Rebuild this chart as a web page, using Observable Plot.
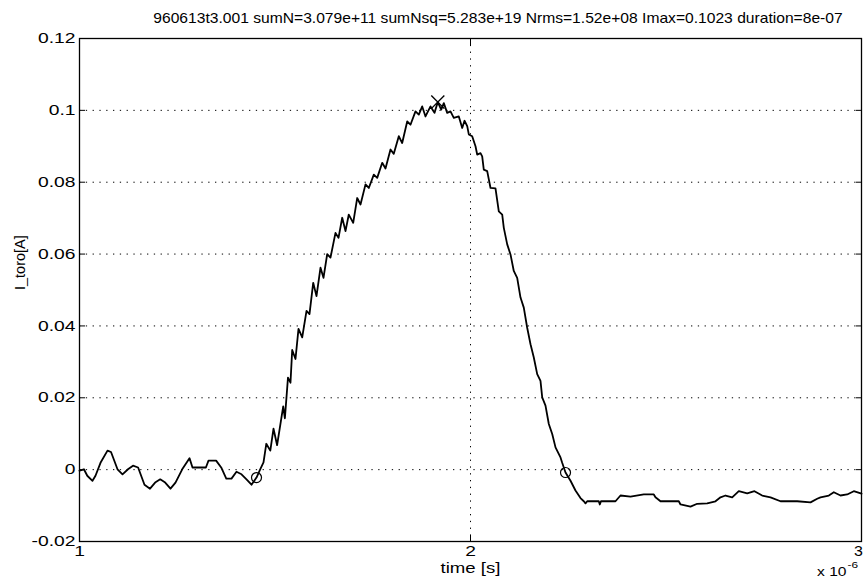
<!DOCTYPE html>
<html><head><meta charset="utf-8">
<script src="https://cdn.jsdelivr.net/npm/d3@7"></script>
<script src="https://cdn.jsdelivr.net/npm/@observablehq/plot@0.6"></script>
<style>body{margin:0;background:#fff}</style>
</head><body><div id="chart"></div>
<script>
const titleText = "960613t3.001 sumN=3.079e+11 sumNsq=5.283e+19 Nrms=1.52e+08 Imax=0.1023 duration=8e-07";
const yLabel = "I_toro[A]";
const xLabel = "time [s]";
const xExponentBase = "x 10";
const xExponent = "-6";

// time in units of 1e-6 s
const timeUs = [
1.0000,1.0113,1.0199,1.0332,1.0409,1.0537,1.0716,1.0806,1.0972,1.1100,
1.1240,1.1368,1.1499,1.1662,1.1803,1.1934,1.2064,1.2192,1.2327,1.2455,
1.2627,1.2813,1.2890,1.3233,1.3299,1.3494,1.3624,1.3754,1.3887,1.4015,
1.4143,1.4271,1.4399,1.4527,1.4621,1.4706,1.4777,1.4880,1.4962,1.5054,
1.5210,1.5253,1.5332,1.5396,1.5440,1.5524,1.5601,1.5696,1.5806,1.5882,
1.5977,1.6061,1.6164,1.6240,1.6335,1.6419,1.6547,1.6624,1.6719,1.6803,
1.6887,1.7000,1.7102,1.7187,1.7315,1.7399,1.7527,1.7614,1.7742,1.7826,
1.7954,1.8038,1.8166,1.8253,1.8381,1.8465,1.8593,1.8678,1.8765,1.8849,
1.8977,1.9079,1.9164,1.9251,1.9317,1.9404,1.9488,1.9573,1.9701,1.9788,
1.9847,1.9916,1.9957,2.0043,2.0128,2.0171,2.0256,2.0299,2.0340,2.0427,
2.0512,2.0639,2.0724,2.0811,2.0852,2.0939,2.1023,2.1107,2.1194,2.1279,
2.1363,2.1450,2.1535,2.1619,2.1706,2.1790,2.1834,2.1918,2.2003,2.2090,
2.2174,2.2302,2.2345,2.2430,2.2558,2.2685,2.2813,2.2898,2.2941,2.2985,
2.3281,2.3307,2.3337,2.3708,2.3836,2.4092,2.4432,2.4688,2.4731,2.4859,
2.5327,2.5371,2.5627,2.5798,2.6054,2.6266,2.6394,2.6522,2.6693,2.6862,
2.7077,2.7263,2.7460,2.7673,2.7928,2.8355,2.8696,2.8867,2.8951,2.9164,
2.9292,2.9463,2.9634,2.9803,3.0000
];
const currentA = [
-0.0003,0.0001,-0.0017,-0.0031,-0.0017,0.0019,0.0053,0.0049,0.0001,-0.0013,
0.0001,0.0011,0.0006,-0.0042,-0.0053,-0.0036,-0.0027,-0.0036,-0.0053,-0.0036,
0.0001,0.0032,0.0006,0.0006,0.0025,0.0025,0.0006,-0.0025,-0.0025,-0.0006,
-0.0013,-0.0027,-0.0042,-0.0022,0.0001,0.0020,0.0072,0.0053,0.0114,0.0068,
0.0176,0.0143,0.0256,0.0242,0.0333,0.0308,0.0392,0.0368,0.0442,0.0433,
0.0520,0.0483,0.0562,0.0534,0.0600,0.0590,0.0659,0.0645,0.0701,0.0664,
0.0710,0.0687,0.0756,0.0738,0.0794,0.0784,0.0821,0.0812,0.0854,0.0838,
0.0891,0.0879,0.0928,0.0909,0.0969,0.0960,0.0997,0.0988,0.1011,0.0983,
0.1011,0.0993,0.1023,0.1002,0.1020,0.0993,0.0997,0.0979,0.0983,0.0951,
0.0971,0.0956,0.0933,0.0928,0.0900,0.0877,0.0881,0.0872,0.0835,0.0831,
0.0784,0.0783,0.0719,0.0710,0.0673,0.0627,0.0599,0.0553,0.0534,0.0479,
0.0451,0.0395,0.0349,0.0312,0.0266,0.0247,0.0201,0.0178,0.0127,0.0099,
0.0062,0.0034,0.0019,-0.0008,-0.0031,-0.0058,-0.0079,-0.0088,-0.0094,-0.0088,
-0.0088,-0.0097,-0.0088,-0.0088,-0.0072,-0.0075,-0.0069,-0.0069,-0.0077,-0.0088,
-0.0088,-0.0097,-0.0103,-0.0095,-0.0094,-0.0088,-0.0077,-0.0072,-0.0077,-0.0060,
-0.0066,-0.0060,-0.0072,-0.0077,-0.0088,-0.0088,-0.0091,-0.0081,-0.0077,-0.0072,
-0.0063,-0.0072,-0.0069,-0.0060,-0.0067
];
// threshold crossings (circles) and maximum (cross)
const crossingT = [1.4527, 2.2430];
const crossingI = [-0.0022, -0.0008];
const peakT = [1.9164];
const peakI = [0.1023];

const yTicks = [-0.02, 0, 0.02, 0.04, 0.06, 0.08, 0.1, 0.12];
const xTicks = [1, 2, 3];

const series = timeUs.map((t, i) => ({t, v: currentA[i]}));
const crossings = crossingT.map((t, i) => ({t, v: crossingI[i]}));
const peaks = peakT.map((t, i) => ({t, v: peakI[i]}));
const fmtY = d => String(+d.toFixed(2));

const font = "'Liberation Sans', Arial, Helvetica, sans-serif";

const chart = Plot.plot({
  width: 865,
  height: 580,
  marginLeft: 79,
  marginRight: 4,
  marginTop: 38,
  marginBottom: 39,
  style: {fontFamily: font, background: "#fff", color: "#000"},
  x: {domain: [1, 3]},
  y: {domain: [-0.02, 0.12]},
  marks: [
    Plot.gridY(yTicks, {stroke: "#000", strokeOpacity: 1, strokeDasharray: "1.3,5.5", strokeWidth: 1}),
    Plot.gridX([2], {stroke: "#000", strokeOpacity: 1, strokeDasharray: "1.3,5.5", strokeWidth: 1}),
    Plot.axisY(yTicks, {anchor: "left", tickSize: -6, tickPadding: 10, tickFormat: fmtY, fontSize: 14.5, label: null}),
    Plot.axisY(yTicks, {anchor: "right", tickSize: -6, tickFormat: () => "", label: null}),
    Plot.axisX(xTicks, {anchor: "bottom", tickSize: -6, tickPadding: 10, tickFormat: d => String(d), fontSize: 14.5, label: null}),
    Plot.axisX(xTicks, {anchor: "top", tickSize: -6, tickFormat: () => "", label: null}),
    Plot.frame({stroke: "#000", strokeWidth: 1.3}),
    Plot.line(series, {x: "t", y: "v", stroke: "#000", strokeWidth: 1.8, curve: "linear"}),
    Plot.dot(crossings, {x: "t", y: "v", r: 5, stroke: "#000", strokeWidth: 1.2, fill: "none"}),
    Plot.dot(peaks, {x: "t", y: "v", symbol: "times", r: 6, stroke: "#000", strokeWidth: 1.4}),
    Plot.text([titleText], {frameAnchor: "top", dx: 27.5, dy: -25, fontSize: 14, fill: "#000"}),
    Plot.text([yLabel], {frameAnchor: "left", dx: -59, rotate: -90, fontSize: 14.5, fill: "#000"}),
    Plot.text([xLabel], {frameAnchor: "bottom", dy: 31, fontSize: 14, fill: "#000"}),
    Plot.text([xExponentBase], {frameAnchor: "bottom-right", dx: -15, dy: 34, fontSize: 12.5, textAnchor: "end", fill: "#000"}),
    Plot.text([xExponent], {frameAnchor: "bottom-right", dx: -14, dy: 26.5, fontSize: 9.5, textAnchor: "start", fill: "#000"})
  ]
});

// the reference's lettering is wide: stretch each text horizontally about its anchor
const stretchByText = new Map([[titleText, 1.117], [xLabel, 1.33], [xExponentBase, 1.25], [xExponent, 1.25], [yLabel, 1], ["3", 1.1]]);
chart.querySelectorAll("text").forEach(el => {
  const label = el.textContent;
  const k = stretchByText.has(label) ? stretchByText.get(label) : 1.33;
  if (k === 1) return;
  const x = el.getAttribute("x");
  if (x != null && x !== "") el.setAttribute("x", (+x) / k);
  const shift = label === "3" ? "translate(-3,0) " : "";
  el.setAttribute("transform", (shift + (el.getAttribute("transform") || "") + ` scale(${k},1)`).trim());
});
document.getElementById("chart").appendChild(chart);
</script>
</body></html>
